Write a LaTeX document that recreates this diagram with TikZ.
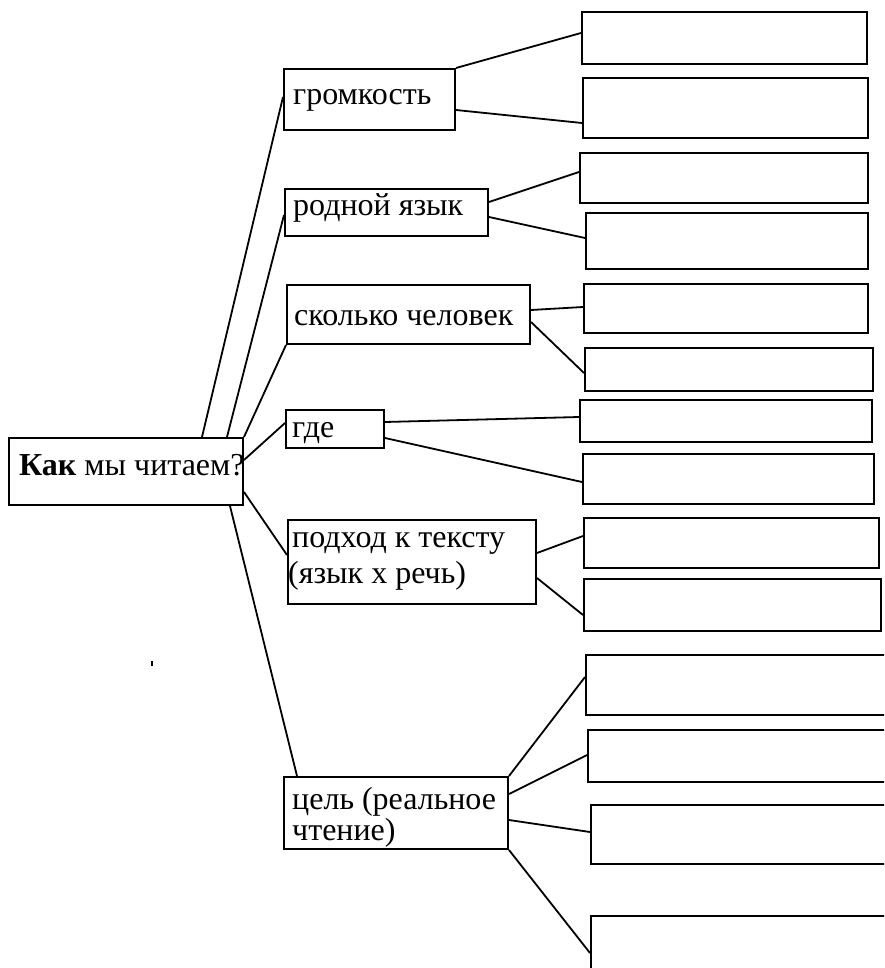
\documentclass[tikz,border=0pt]{standalone}
\usepackage{fontspec}
\setmainfont{Liberation Serif}
\begin{document}
\begin{tikzpicture}[x=1pt,y=-1pt,
  bx/.style={draw, line width=2pt, inner sep=0pt, anchor=north west},
  ln/.style={line width=1.8pt},
  txt/.style={inner sep=0pt, anchor=base west, font=\fontsize{32}{36}\selectfont}]
\clip (0,0) rectangle (884,968);
% left boxes
\node[bx, minimum width=234pt, minimum height=67pt] (m) at (8,437) {};
\node[bx, minimum width=171pt, minimum height=61pt] (g) at (283,68) {};
\node[bx, minimum width=203pt, minimum height=47pt] (r) at (284,188) {};
\node[bx, minimum width=243pt, minimum height=59pt] (s) at (286,284) {};
\node[bx, minimum width=98pt, minimum height=38pt] (w) at (285,409) {};
\node[bx, minimum width=248pt, minimum height=84pt] (p) at (287,519) {};
\node[bx, minimum width=224pt, minimum height=72pt] (c) at (283,776) {};
% right boxes
\node[bx, minimum width=285pt, minimum height=52pt] (b1) at (581,11) {};
\node[bx, minimum width=285pt, minimum height=60pt] (b2) at (582,77) {};
\node[bx, minimum width=288pt, minimum height=50pt] (b3) at (579,152) {};
\node[bx, minimum width=282pt, minimum height=56pt] (b4) at (585,212) {};
\node[bx, minimum width=284pt, minimum height=49pt] (b5) at (583,283) {};
\node[bx, minimum width=288pt, minimum height=43pt] (b6) at (584,347) {};
\node[bx, minimum width=292pt, minimum height=42pt] (b7) at (579,399) {};
\node[bx, minimum width=291pt, minimum height=50pt] (b8) at (582,453) {};
\node[bx, minimum width=295pt, minimum height=50pt] (b9) at (583,517) {};
\node[bx, minimum width=297pt, minimum height=52pt] (b10) at (583,578) {};
\node[bx, minimum width=315pt, minimum height=60pt] (b11) at (585,654) {};
\node[bx, minimum width=313pt, minimum height=52pt] (b12) at (587,729) {};
\node[bx, minimum width=310pt, minimum height=59pt] (b13) at (590,804) {};
\node[bx, minimum width=310pt, minimum height=75pt] (b14) at (590,915) {};
% texts
\node[txt] (tm) at (19,475) {\textbf{Как} мы читаем?};
\node[txt] (tg) at (293,105) {громкость};
\node[txt] (tr) at (293,215) {родной язык};
\node[txt] (ts) at (294,325) {сколько человек};
\node[txt] (tw) at (292,437) {где};
\node[txt] (tp1) at (292,547) {подход к тексту};
\node[txt] (tp2) at (288,583) {(язык х речь)};
\node[txt] (tc1) at (292,809) {цель (реальное};
\node[txt] (tc2) at (292,840) {чтение)};
% connectors from main
\draw[ln] (m.north -| 202,0) -- (g.west |- 0,97);
\draw[ln] (m.north -| 227,0) -- (r.west |- 0,215);
\draw[ln] (m.north east) -- (s.south west);
\draw[ln] (m.east |- 0,460) -- (w.west |- 0,423);
\draw[ln] (m.east |- 0,492) -- (p.west |- 0,555);
\draw[ln] (m.south -| 230,0) -- (c.north -| 297,0);
% connectors to right boxes
\draw[ln] (g.north east) -- (b1.west |- 0,33);
\draw[ln] (g.east |- 0,110) -- (b2.west |- 0,123);
\draw[ln] (r.east |- 0,202) -- (b3.west |- 0,172);
\draw[ln] (r.east |- 0,217) -- (b4.west |- 0,238);
\draw[ln] (s.east |- 0,310) -- (b5.west |- 0,307);
\draw[ln] (s.east |- 0,322) -- (b6.west |- 0,373);
\draw[ln] (w.east |- 0,422) -- (b7.west |- 0,417);
\draw[ln] (w.east |- 0,438) -- (b8.west |- 0,482);
\draw[ln] (p.east |- 0,553) -- (b9.west |- 0,536);
\draw[ln] (p.east |- 0,578) -- (b10.west |- 0,615);
\draw[ln] (c.north east) -- (b11.west |- 0,677);
\draw[ln] (c.east |- 0,794) -- (b12.west |- 0,755);
\draw[ln] (c.east |- 0,820) -- (b13.west |- 0,832);
\draw[ln] (c.south east) -- (b14.west |- 0,953);
% stray mark
\fill (151,661) rectangle (153,666);
\end{tikzpicture}
\end{document}
